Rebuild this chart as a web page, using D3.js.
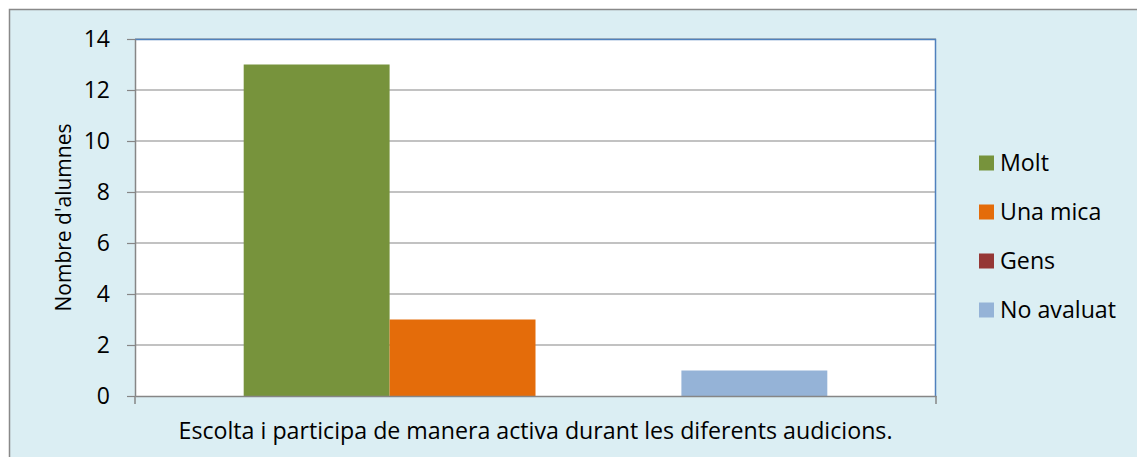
<!DOCTYPE html>
<html>
<head>
<meta charset="utf-8">
<script src="https://cdn.jsdelivr.net/npm/d3@7"></script>
<style>
  html, body { margin: 0; padding: 0; background: #fff; }
  text { font-family: "Open Sans", sans-serif; fill: #000; }
</style>
</head>
<body>
<div id="chart"></div>
<script>
const categories = ['Escolta i participa de manera activa durant les diferents audicions.']
const seriesNames = ['Molt', 'Una mica', 'Gens', 'No avaluat']
const seriesValues = [13, 3, 0, 1]
const seriesColors = ['#77933C', '#E46C0A', '#953735', '#95B3D7']
const yTicks = [0, 2, 4, 6, 8, 10, 12, 14]
const yTitle = "Nombre d'alumnes"

const W = 1137, H = 457
const plot = {left: 135, top: 39, right: 936, bottom: 396}
const fontSize = 23.2
const tickFontSize = 23

const svg = d3.select('#chart').append('svg')
  .attr('width', W)
  .attr('height', H)

// chart frame
svg.append('rect')
  .attr('x', 9.5).attr('y', 9.5)
  .attr('width', W + 20).attr('height', H + 20)
  .attr('fill', '#DBEEF3')
  .attr('stroke', '#898989')
  .attr('stroke-width', 1.5)

svg.append('rect')
  .attr('x', plot.left).attr('y', plot.top)
  .attr('width', plot.right - plot.left).attr('height', plot.bottom - plot.top)
  .attr('fill', '#fff')

const x0 = d3.scaleBand()
  .domain(categories)
  .range([plot.left, plot.right])
  .paddingInner(0)
  .paddingOuter(0)

const x1 = d3.scaleBand()
  .domain(seriesNames)
  .range([0, x0.bandwidth()])
  .paddingOuter(0.745)

const y = d3.scaleLinear()
  .domain([0, 14])
  .range([plot.bottom, plot.top])

// gridlines
svg.append('g')
  .selectAll('line')
  .data(yTicks.filter((d) => d > 0))
  .enter()
    .append('line')
    .attr('x1', plot.left).attr('x2', plot.right)
    .attr('y1', (d) => y(d)).attr('y2', (d) => y(d))
    .attr('stroke', '#868686')
    .attr('stroke-width', 1.2)

// bars
const data = seriesNames.map((s, i) => ({cat: categories[0], s: s, v: seriesValues[i], c: seriesColors[i]}))
svg.append('g')
  .selectAll('rect')
  .data(data)
  .enter()
    .append('rect')
    .attr('x', (d) => x0(d.cat) + x1(d.s))
    .attr('y', (d) => y(d.v))
    .attr('width', x1.bandwidth())
    .attr('height', (d) => y(0) - y(d.v))
    .attr('fill', (d) => d.c)

// blue plot border (top, right)
svg.append('path')
  .attr('d', `M${plot.left},${plot.top + 0.5}H${plot.right - 0.5}V${plot.bottom}`)
  .attr('fill', 'none')
  .attr('stroke', '#4F81BD')
  .attr('stroke-width', 1.5)

// y axis
const yAxis = svg.append('g')
  .attr('transform', `translate(${plot.left},0)`)
  .call(d3.axisLeft(y).tickValues(yTicks).tickSize(8).tickPadding(17).tickSizeOuter(0))
yAxis.select('.domain').attr('stroke', '#868686').attr('stroke-width', 1.5)
yAxis.selectAll('.tick line').attr('stroke', '#868686').attr('stroke-width', 1.2)
yAxis.selectAll('.tick text')
  .attr('font-size', tickFontSize)
  .style('font-family', '"Open Sans", sans-serif')
  .attr('fill', '#000')

// x axis
const xAxis = svg.append('g')
  .attr('transform', `translate(0,${plot.bottom})`)
  .call(d3.axisBottom(x0).tickSize(0).tickPadding(26))
xAxis.select('.domain').attr('stroke', '#868686').attr('stroke-width', 1.5)
xAxis.selectAll('.tick text')
  .attr('font-size', fontSize)
  .style('font-family', '"Open Sans", sans-serif')
  .attr('fill', '#000')
  .attr('dy', '0.75em')

svg.append('g')
  .selectAll('line')
  .data([plot.left, plot.right])
  .enter()
    .append('line')
    .attr('x1', (d) => d).attr('x2', (d) => d)
    .attr('y1', plot.bottom).attr('y2', plot.bottom + 8)
    .attr('stroke', '#868686')
    .attr('stroke-width', 1.5)

// y title
svg.append('text')
  .attr('transform', `translate(71,${(plot.top + plot.bottom) / 2}) rotate(-90)`)
  .attr('text-anchor', 'middle')
  .attr('font-size', 21)
  .text(yTitle)

// legend
const legend = svg.append('g')
  .selectAll('g')
  .data(data)
  .enter()
    .append('g')
    .attr('transform', (d, i) => `translate(979,${163 + i * 49})`)
legend.append('rect')
  .attr('x', 0).attr('y', -7.5)
  .attr('width', 15).attr('height', 15)
  .attr('fill', (d) => d.c)
legend.append('text')
  .attr('x', 21).attr('y', 0)
  .attr('dy', '0.35em')
  .attr('font-size', fontSize)
  .text((d) => d.s)
</script>
</body>
</html>
